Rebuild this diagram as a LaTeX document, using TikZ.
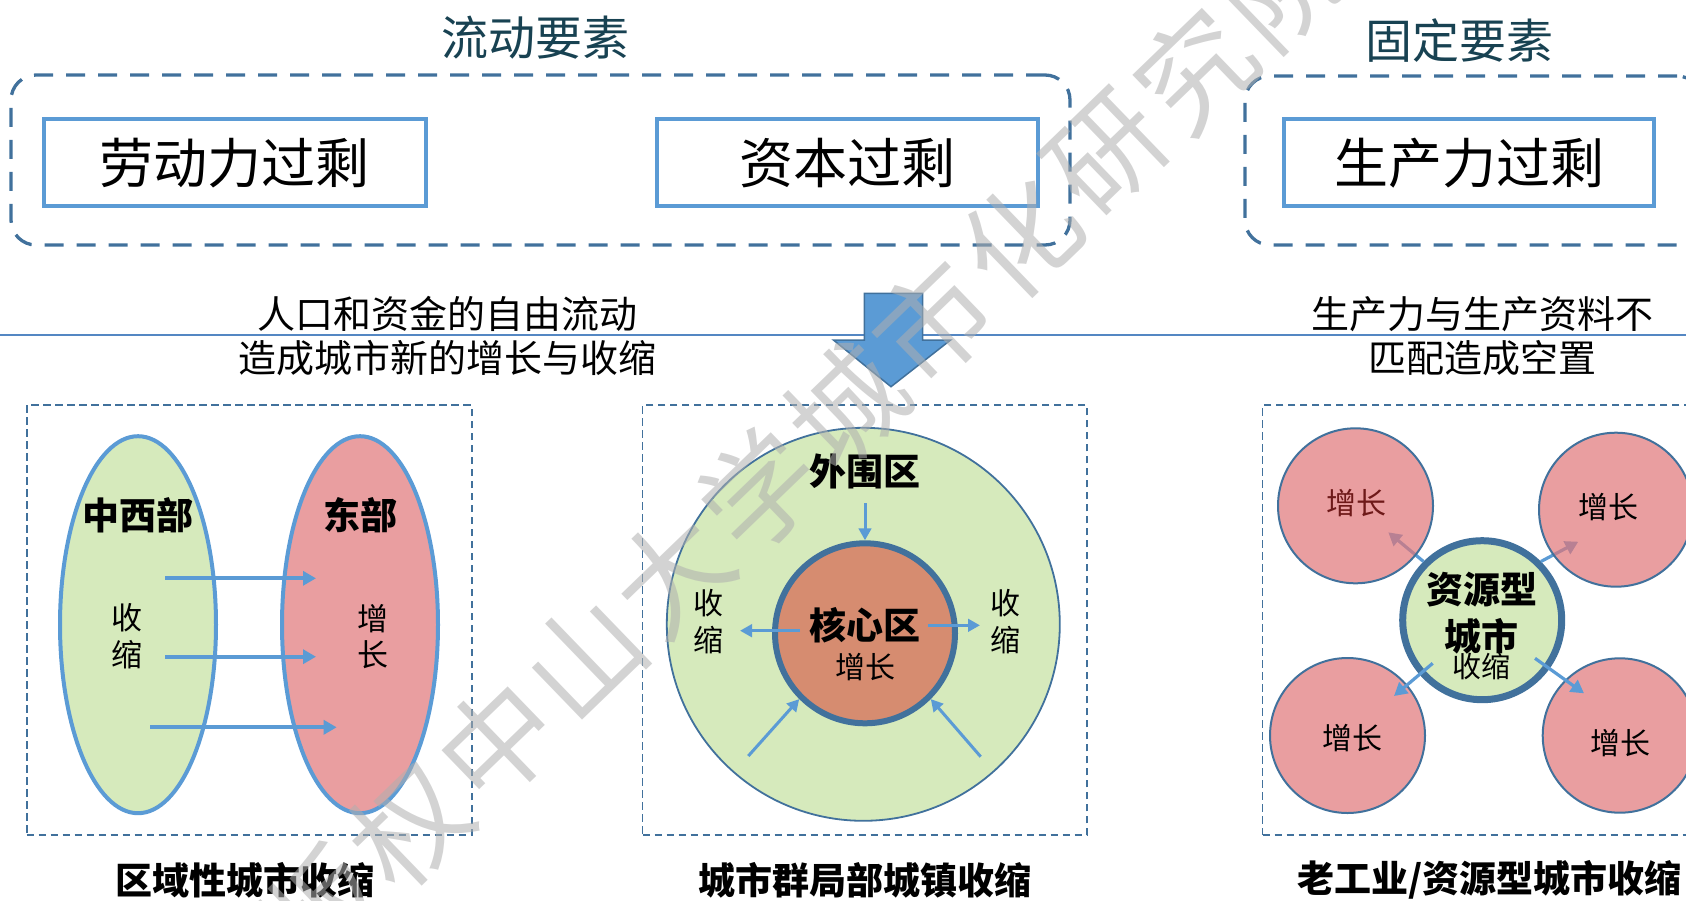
\documentclass[tikz,border=0pt]{standalone}
\usepackage{fontspec}
\setmainfont{Noto Sans CJK SC}
\usetikzlibrary{shapes.geometric,arrows.meta}
\definecolor{dashblue}{RGB}{65,113,156}
\definecolor{boxblue}{RGB}{91,155,213}
\definecolor{titleteal}{RGB}{24,66,82}
\definecolor{lgreen}{RGB}{214,234,188}
\definecolor{lpink}{RGB}{233,158,160}
\definecolor{tpink}{RGB}{224,117,119}
\definecolor{coreor}{RGB}{214,140,112}
\definecolor{wmgray}{RGB}{175,175,175}
\definecolor{hlblue}{RGB}{84,135,195}
\definecolor{maroon}{RGB}{110,25,25}
\begin{document}
\begin{tikzpicture}[x=1pt,y=-1pt,
  title/.style={text=titleteal,font=\fontsize{47}{54}\selectfont,inner sep=0pt},
  grp/.style={draw=dashblue,line width=3.3pt,dash pattern=on 19pt off 13pt,rounded corners=25pt,inner sep=0pt},
  bigbox/.style={draw=boxblue,line width=4pt,fill=white,minimum height=86.7pt,inner sep=0pt,font=\fontsize{54}{60}\selectfont},
  midtxt/.style={align=center,inner sep=0pt,font=\fontsize{38}{44}\selectfont},
  panel/.style={draw=dashblue,line width=1.6pt,dash pattern=on 7.5pt off 4.5pt,inner sep=0pt},
  caption/.style={inner sep=0pt,font=\fontsize{37}{44}\selectfont\bfseries},
  bold/.style={inner sep=0pt,font=\fontsize{37}{44}\selectfont\bfseries},
  small/.style={inner sep=0pt,align=center,font=\fontsize{30}{37}\selectfont},
  arrA/.style={draw=boxblue,line width=3.8pt,-{Triangle[length=13pt,width=14pt]}},
  arrB/.style={draw=boxblue,line width=3pt,-{Triangle[length=12pt,width=12.5pt]}},
  wm/.style={text=wmgray,text opacity=0.55,font=\fontsize{114}{114}\selectfont,inner sep=0pt,rotate=44}
]
\useasboundingbox (0,0) rectangle (1686,900);

% ---------- top ----------
\node[title] (t1) at (535,38) {流动要素};
\node[title] (t2) at (1459,41) {固定要素};

\node[grp,minimum width=1059pt,minimum height=170pt] (g1) at (540.5,160) {};
\node[grp,minimum width=457pt,minimum height=169pt] (g2) at (1473.5,160.5) {};

\node[bigbox,minimum width=382pt] (b1) at (234.7,162.7) {劳动力过剩};
\node[bigbox,minimum width=381pt] (b2) at (847.8,162.7) {资本过剩};
\node[bigbox,minimum width=369.6pt] (b3) at (1469,162.7) {生产力过剩};

\coordinate (hl) at (0,335);
\coordinate (hr) at (1686,335);
\draw[draw=hlblue,line width=1.2pt] (hl) -- (hr);

\node[midtxt] (m1) at (447,336) {人口和资金的自由流动\\造成城市新的增长与收缩};
\node[midtxt] (m2) at (1482,336) {生产力与生产资料不\\匹配造成空置};

\filldraw[fill=boxblue,draw=dashblue,line width=1.5pt]
  (864.3,293.3) -- (922.5,293.3) -- (922.5,340) -- (950.6,340) -- (891,386.7)
  -- (833.4,340) -- (864.3,340) -- cycle;

% ---------- panel 1 ----------
\node[panel,minimum width=445pt,minimum height=430pt] (p1) at (249.2,620) {};
\node[ellipse,draw=boxblue,line width=4pt,fill=lgreen,minimum width=156pt,minimum height=377pt,inner sep=0pt] (west) at (138,624.7) {};
\node[ellipse,draw=boxblue,line width=4pt,fill=lpink,minimum width=156pt,minimum height=377pt,inner sep=0pt] (east) at (360,624.7) {};
\node[bold] (wl) at (138.3,515) {中西部};
\node[bold] (el) at (360,515) {东部};
\node[small,font=\fontsize{31}{36.7}\selectfont] (ws) at (126.7,636.5) {收\\缩};
\node[small,font=\fontsize{31}{36.7}\selectfont] (eg) at (372.7,636.5) {增\\长};
\coordinate (a1s) at (165,578.3); \coordinate (a1e) at (316,578.3);
\coordinate (a2s) at (165,656.7); \coordinate (a2e) at (316,656.7);
\coordinate (a3s) at (150,727.3); \coordinate (a3e) at (336.7,727.3);
\draw[arrA] (a1s) -- (a1e);
\draw[arrA] (a2s) -- (a2e);
\draw[arrA] (a3s) -- (a3e);
\node[caption] (c1) at (245,880) {区域性城市收缩};

% ---------- panel 2 ----------
\node[panel,minimum width=444.3pt,minimum height=430pt] (p2) at (864.8,620) {};
\node[circle,draw=dashblue,line width=1.8pt,fill=lgreen,minimum size=393pt,inner sep=0pt] (outer) at (863.3,624.3) {};
\node[circle,draw=dashblue,line width=6pt,fill=coreor,minimum size=180pt,inner sep=0pt] (core) at (865,633.3) {};
\node[bold] (ol) at (865,471.7) {外围区};
\node[bold] (cl) at (865,625) {核心区};
\node[small] (cg) at (865,666.7) {增长};
\node[small] (ls) at (708.3,621.5) {收\\缩};
\node[small] (rs) at (1005,621.5) {收\\缩};
\coordinate (wa) at (865,503);
\coordinate (la1) at (800,630.7); \coordinate (la2) at (740,630.7);
\coordinate (ra1) at (928.3,625.3); \coordinate (ra2) at (980,625.3);
\coordinate (bl) at (748.3,756); \coordinate (br) at (980.7,756.7);
\draw[arrB] (wa) -- (core.north);
\draw[arrB] (la1) -- (la2);
\draw[arrB] (ra1) -- (ra2);
\draw[arrB] (bl) -- (core.225);
\draw[arrB] (br) -- (core.315);
\node[caption] (c2) at (865,880) {城市群局部城镇收缩};

% ---------- panel 3 ----------
\node[panel,minimum width=437.3pt,minimum height=430pt] (p3) at (1481.3,620) {};
\node[circle,draw=dashblue,line width=7pt,fill=lgreen,minimum size=159pt,inner sep=0pt] (cc) at (1482.2,620.2) {};
\coordinate (tle) at (1388.3,532.3);
\coordinate (tre) at (1578.3,541.7);
\draw[arrA,line width=3.2pt] (cc.135) -- (tle);
\draw[arrA,line width=3.2pt] (cc.45) -- (tre);
\node[circle,draw=dashblue,line width=2pt,fill=tpink,fill opacity=0.7,minimum size=155pt,inner sep=0pt] (tl) at (1355.5,505.8) {};
\node[circle,draw=dashblue,line width=2pt,fill=tpink,fill opacity=0.7,minimum size=154pt,inner sep=0pt] (tr) at (1616,509.7) {};
\node[circle,draw=dashblue,line width=2pt,fill=tpink,fill opacity=0.7,minimum size=155pt,inner sep=0pt] (bll) at (1347.5,735.5) {};
\node[circle,draw=dashblue,line width=2pt,fill=tpink,fill opacity=0.7,minimum size=154.4pt,inner sep=0pt] (brr) at (1619.9,735.5) {};
\node[small,text=maroon] (tlt) at (1356.7,503.3) {增长};
\node[small] (trt) at (1608.3,507.3) {增长};
\node[small] (blt) at (1352.7,738.3) {增长};
\node[small] (brt) at (1620,742.7) {增长};
\coordinate (bls) at (1432.7,663.3); \coordinate (ble) at (1394,696);
\coordinate (brs) at (1535,658.3); \coordinate (bre) at (1584,693.3);
\draw[arrA,line width=3.2pt] (bls) -- (ble);
\draw[arrA,line width=3.2pt] (brs) -- (bre);
\node[bold] (r1) at (1481.7,590) {资源型};
\node[bold] (r2) at (1481.7,636.7) {城市};
\node[small,font=\fontsize{29}{34}\selectfont] (r3) at (1481.7,666.7) {收缩};
\node[caption,anchor=west] (c3) at (1297,880) {老工业/资源型城市收缩};

% ---------- watermark ----------
\foreach \ch [count=\i from 0] in {版,权,中,山,大,学,城,市,化,研,究,院} {
  \node[wm] (w\i) at ({497+87.25*(\i-2)},{742-84*(\i-2)}) {\ch};
}
\end{tikzpicture}
\end{document}
